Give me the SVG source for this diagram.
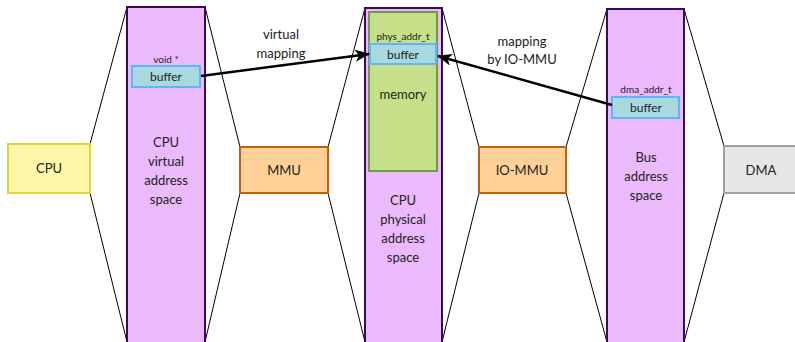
<svg xmlns="http://www.w3.org/2000/svg" width="795" height="342" viewBox="0 0 795 342">
<defs>
<marker id="ah" markerWidth="15" markerHeight="12" refX="14" refY="6" orient="auto" markerUnits="userSpaceOnUse">
<path d="M0,0 L15,6 L0,12 L4,6 Z" fill="#000"/>
</marker>
<style>
text{font-family:Lato,"Open Sans","Liberation Sans",sans-serif;fill:#222;text-anchor:middle}
.t{font-size:13px}
.s{font-size:10px}
.b{font-size:12px}
.col{fill:#ebbafc;stroke:#3a0a52;stroke-width:2}
.buf{fill:#a8d8e0;stroke:#62b4f4;stroke-width:2}
.fan{stroke:#000;stroke-width:1;fill:none}
.arr{stroke:#000;stroke-width:2.5;fill:none;marker-end:url(#ah)}
</style>
</defs>
<rect width="795" height="342" fill="#fff"/>
<g id="fans">
<line class="fan" x1="90" y1="144" x2="127" y2="7"/>
<line class="fan" x1="90" y1="193" x2="127" y2="342"/>
<line class="fan" x1="205" y1="7" x2="240" y2="147"/>
<line class="fan" x1="205" y1="342" x2="240" y2="193"/>
<line class="fan" x1="328" y1="147" x2="365" y2="8"/>
<line class="fan" x1="328" y1="193" x2="365" y2="342"/>
<line class="fan" x1="442" y1="8" x2="479" y2="147"/>
<line class="fan" x1="442" y1="342" x2="479" y2="193"/>
<line class="fan" x1="566" y1="147" x2="607" y2="9"/>
<line class="fan" x1="566" y1="193" x2="607" y2="342"/>
<line class="fan" x1="684" y1="9" x2="724" y2="146"/>
<line class="fan" x1="684" y1="342" x2="724" y2="193"/>
</g>
<g id="cpu">
<rect x="8" y="144" width="82" height="49" fill="#fff7a8" stroke="#e2d23e" stroke-width="2"/>
<text class="t" x="49" y="173">CPU</text>
</g>
<g id="virt">
<rect class="col" x="127" y="7" width="78" height="340"/>
<text class="s" x="166" y="63">void *</text>
<rect class="buf" x="132" y="66" width="68" height="21"/>
<text class="b" x="166" y="81">buffer</text>
<text class="t" x="166" y="147">CPU</text>
<text class="t" x="166" y="166">virtual</text>
<text class="t" x="166" y="185">address</text>
<text class="t" x="166" y="204">space</text>
</g>
<g id="mmu">
<rect x="240" y="147" width="88" height="46" fill="#ffd197" stroke="#c0600e" stroke-width="2"/>
<text class="t" x="284" y="175">MMU</text>
</g>
<g id="phys">
<rect class="col" x="365" y="8" width="77" height="340"/>
<rect x="369" y="12" width="68" height="159" fill="#c6e08a" stroke="#6f9a4c" stroke-width="2"/>
<text class="s" x="403" y="40">phys_addr_t</text>
<rect class="buf" x="370" y="44" width="66" height="20"/>
<text class="b" x="403" y="59">buffer</text>
<text class="t" x="403" y="99">memory</text>
<text class="t" x="403" y="205">CPU</text>
<text class="t" x="403" y="224">physical</text>
<text class="t" x="403" y="243">address</text>
<text class="t" x="403" y="262">space</text>
</g>
<g id="iommu">
<rect x="479" y="147" width="87" height="46" fill="#ffd197" stroke="#c0600e" stroke-width="2"/>
<text class="t" x="522" y="175">IO-MMU</text>
</g>
<g id="bus">
<rect class="col" x="607" y="9" width="77" height="340"/>
<text class="s" x="646" y="93">dma_addr_t</text>
<rect class="buf" x="612" y="97" width="67" height="21"/>
<text class="b" x="646" y="112">buffer</text>
<text class="t" x="646" y="162">Bus</text>
<text class="t" x="646" y="181">address</text>
<text class="t" x="646" y="200">space</text>
</g>
<g id="dma">
<rect x="724" y="146" width="80" height="47" fill="#e6e6e6" stroke="#a0a0a0" stroke-width="2"/>
<text class="t" x="761" y="175">DMA</text>
</g>
<g id="connectors">
<line class="arr" x1="201" y1="76" x2="369" y2="54"/>
<line class="arr" x1="612" y1="105" x2="438" y2="56"/>
<text class="t" x="281" y="39">virtual</text>
<text class="t" x="281" y="58">mapping</text>
<text class="t" x="522" y="46">mapping</text>
<text class="t" x="522" y="64">by IO-MMU</text>
</g>
</svg>
